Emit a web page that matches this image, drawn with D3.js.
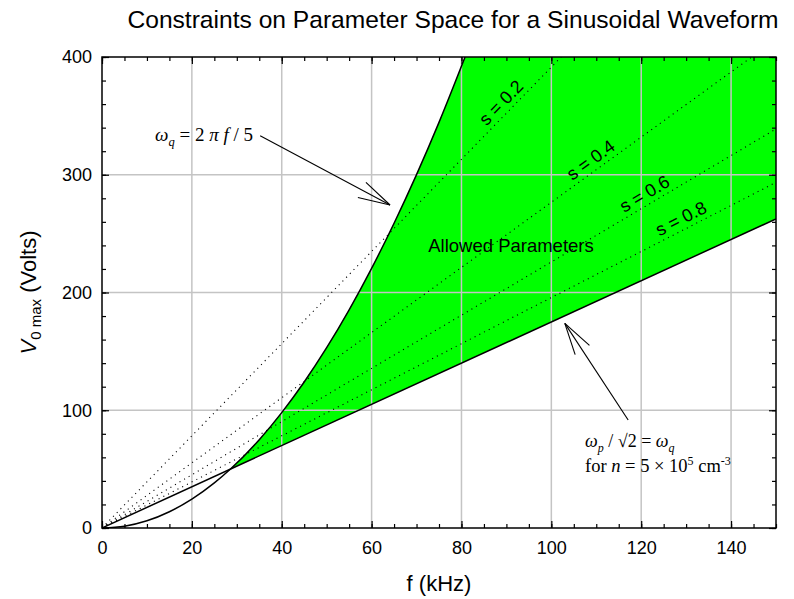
<!DOCTYPE html>
<html>
<head>
<meta charset="utf-8">
<script src="https://cdn.jsdelivr.net/npm/d3@7"></script>
<style>
  body { margin: 0; background: #fff; }
  svg { display: block; }
</style>
</head>
<body>
<svg id="chart" width="794" height="599"></svg>
<script>
// ---- axis setup ----
const xDomain = [0, 150];
const yDomain = [0, 400];
const xTicks = [0, 20, 40, 60, 80, 100, 120, 140];
const yTicks = [0, 100, 200, 300, 400];

// ---- boundary: omega_q = 2 pi f / 5 (f in kHz, V0max in volts) ----
const qCurveF = [0, 5, 10, 15, 20, 25, 28.6, 35, 40, 45, 50, 55, 60, 65, 70, 75, 80.8];
const qCurveV = [0, 1.5, 6.1, 13.8, 24.5, 38.3, 50.1, 75.0, 98.0, 124.0, 153.1, 185.3, 220.5, 258.8, 300.1, 344.5, 400];

// ---- boundary: omega_p / sqrt(2) = omega_q, n = 5e5 cm^-3 ----
const pLineF = [0, 150];
const pLineV = [0, 262.5];

// point where the two boundaries meet
const crossF = 28.6;
const crossV = 50.1;

// ---- constant-s lines (from the origin to the frame) ----
const sValues = [0.2, 0.4, 0.6, 0.8];
const sEndF = [102.2, 144.6, 150, 150];
const sEndV = [400, 400, 338.9, 293.5];
const sLabelF = [90.6, 110.2, 122, 130];

// ---- annotation arrows [fromF, fromV, tipF, tipV] ----
const arrowQ = [35.2, 333.2, 64.1, 274.3];
const arrowP = [117.1, 91.7, 103.0, 173.8];

const W = 794, H = 599;
const margin = { top: 57, right: 18, bottom: 71, left: 102 };
const x = d3.scaleLinear().domain(xDomain).range([margin.left, W - margin.right]);
const y = d3.scaleLinear().domain(yDomain).range([H - margin.bottom, margin.top]);

const svg = d3.select("#chart");
const sans = "'Liberation Sans', Arial, sans-serif";
const serif = "'Liberation Serif', 'Times New Roman', serif";

svg.append("defs").append("clipPath").attr("id", "plotClip")
  .append("rect")
  .attr("x", x(xDomain[0])).attr("y", y(yDomain[1]))
  .attr("width", x(xDomain[1]) - x(xDomain[0]))
  .attr("height", y(yDomain[0]) - y(yDomain[1]));

const plot = svg.append("g").attr("clip-path", "url(#plotClip)");

// ---- allowed region (green) ----
const curvePts = qCurveF.map((f, i) => [f, qCurveV[i]]);
const lineGen = d3.line().x(d => x(d[0])).y(d => y(d[1])).curve(d3.curveMonotoneX);
const upperPart = curvePts.filter(d => d[0] >= crossF);
const regionPath = lineGen(upperPart)
  + "L" + x(xDomain[1]) + "," + y(yDomain[1])
  + "L" + x(pLineF[1]) + "," + y(pLineV[1])
  + "L" + x(crossF) + "," + y(crossV) + "Z";
plot.append("path").attr("d", regionPath).attr("fill", "#00ff00").attr("stroke", "none");

// ---- grid ----
const gridColor = "#c4c4c4";
plot.append("g").selectAll("line").data(xTicks.filter(t => t > xDomain[0]))
  .join("line")
  .attr("x1", d => x(d)).attr("x2", d => x(d))
  .attr("y1", y(yDomain[0])).attr("y2", y(yDomain[1]))
  .attr("stroke", gridColor).attr("stroke-width", 1.5);
plot.append("g").selectAll("line").data(yTicks.filter(t => t > yDomain[0] && t < yDomain[1]))
  .join("line")
  .attr("y1", d => y(d)).attr("y2", d => y(d))
  .attr("x1", x(xDomain[0])).attr("x2", x(xDomain[1]))
  .attr("stroke", gridColor).attr("stroke-width", 1.5);

// ---- constant-s dotted lines ----
const straight = d3.line().x(d => x(d[0])).y(d => y(d[1]));
plot.append("g").selectAll("path").data(sValues)
  .join("path")
  .attr("d", (s, i) => straight([[0, 0], [sEndF[i], sEndV[i]]]))
  .attr("fill", "none").attr("stroke", "#000").attr("stroke-width", 1.1)
  .attr("stroke-dasharray", "1.1,4.2");

// ---- boundary curves ----
plot.append("path").attr("d", lineGen(curvePts))
  .attr("fill", "none").attr("stroke", "#000").attr("stroke-width", 1.5);
plot.append("path").attr("d", straight(pLineF.map((f, i) => [f, pLineV[i]])))
  .attr("fill", "none").attr("stroke", "#000").attr("stroke-width", 1.5);

// ---- axes with inward ticks on all four sides ----
function styleAxis(g) {
  g.select(".domain").remove();
  g.selectAll(".tick line").attr("stroke", "#000").attr("stroke-width", 1.2);
  g.selectAll(".tick text").attr("font-family", sans).attr("font-size", 18).attr("fill", "#000");
}
const minorX = d3.range(0, 151, 5);
const minorY = d3.range(0, 401, 20);

svg.append("g").attr("transform", `translate(0,${y(0)})`)
  .call(d3.axisBottom(x).tickValues(minorX).tickSize(-4).tickFormat(""))
  .call(styleAxis);
svg.append("g").attr("transform", `translate(0,${y(0)})`)
  .call(d3.axisBottom(x).tickValues(xTicks).tickSize(-7).tickPadding(13).tickFormat(d3.format("d")))
  .call(styleAxis);
svg.append("g").attr("transform", `translate(0,${y(400)})`)
  .call(d3.axisTop(x).tickValues(minorX).tickSize(-4).tickFormat(""))
  .call(styleAxis);
svg.append("g").attr("transform", `translate(0,${y(400)})`)
  .call(d3.axisTop(x).tickValues(xTicks).tickSize(-7).tickFormat(""))
  .call(styleAxis);
svg.append("g").attr("transform", `translate(${x(0)},0)`)
  .call(d3.axisLeft(y).tickValues(minorY).tickSize(-4).tickFormat(""))
  .call(styleAxis);
svg.append("g").attr("transform", `translate(${x(0)},0)`)
  .call(d3.axisLeft(y).tickValues(yTicks).tickSize(-7).tickPadding(10).tickFormat(d3.format("d")))
  .call(styleAxis);
svg.append("g").attr("transform", `translate(${x(150)},0)`)
  .call(d3.axisRight(y).tickValues(minorY).tickSize(-4).tickFormat(""))
  .call(styleAxis);
svg.append("g").attr("transform", `translate(${x(150)},0)`)
  .call(d3.axisRight(y).tickValues(yTicks).tickSize(-7).tickFormat(""))
  .call(styleAxis);

// frame
svg.append("rect")
  .attr("x", x(xDomain[0])).attr("y", y(yDomain[1]))
  .attr("width", x(xDomain[1]) - x(xDomain[0]))
  .attr("height", y(yDomain[0]) - y(yDomain[1]))
  .attr("fill", "none").attr("stroke", "#000").attr("stroke-width", 1.5);

// ---- s labels along the dotted lines ----
svg.append("g").selectAll("text").data(sValues)
  .join("text")
  .attr("transform", (s, i) => {
    const f = sLabelF[i];
    const v = sEndV[i] * f / sEndF[i];
    const ang = Math.atan2(y(sEndV[i]) - y(0), x(sEndF[i]) - x(0)) * 180 / Math.PI;
    return `translate(${x(f)},${y(v)}) rotate(${ang})`;
  })
  .attr("dy", -5)
  .attr("text-anchor", "middle")
  .attr("font-family", sans).attr("font-size", 18)
  .text(s => "s = " + s);

// ---- region label ----
svg.append("text")
  .attr("x", x(72.6)).attr("y", y(234.4))
  .attr("font-family", sans).attr("font-size", 18.5)
  .text("Allowed Parameters");

// ---- titles ----
svg.append("text")
  .attr("x", 453).attr("y", 28)
  .attr("text-anchor", "middle")
  .attr("font-family", sans).attr("font-size", 24.6)
  .text("Constraints on Parameter Space for a Sinusoidal Waveform");

svg.append("text")
  .attr("x", (x(0) + x(150)) / 2).attr("y", 591)
  .attr("text-anchor", "middle")
  .attr("font-family", sans).attr("font-size", 22)
  .text("f (kHz)");

const yLab = svg.append("text")
  .attr("transform", `translate(36,${(y(0) + y(400)) / 2}) rotate(-90)`)
  .attr("text-anchor", "middle")
  .attr("font-family", sans).attr("font-size", 22);
yLab.append("tspan").attr("font-style", "italic").text("V");
yLab.append("tspan").attr("font-size", 15).attr("dy", 5).text("0 max");
yLab.append("tspan").attr("dy", -5).text(" (Volts)");

// ---- annotation arrows (open heads) ----
function arrow(a) {
  const x0 = x(a[0]), y0 = y(a[1]), x1 = x(a[2]), y1 = y(a[3]);
  const g = svg.append("g").attr("stroke", "#000").attr("stroke-width", 1.1).attr("fill", "none");
  g.append("line").attr("x1", x0).attr("y1", y0).attr("x2", x1).attr("y2", y1);
  const back = Math.atan2(y0 - y1, x0 - x1);
  const len = 33, half = 15 * Math.PI / 180;
  [back - half, back + half].forEach(t => {
    g.append("line").attr("x1", x1).attr("y1", y1)
      .attr("x2", x1 + len * Math.cos(t)).attr("y2", y1 + len * Math.sin(t));
  });
}
arrow(arrowQ);
arrow(arrowP);

// ---- annotation texts ----
const tq = svg.append("text")
  .attr("x", x(11.8)).attr("y", y(328.7))
  .attr("font-family", serif).attr("font-size", 19);
tq.append("tspan").attr("font-style", "italic").text("ω");
tq.append("tspan").attr("font-style", "italic").attr("font-size", 12.5).attr("dy", 5).text("q");
tq.append("tspan").attr("dy", -5).text(" = 2 ");
tq.append("tspan").attr("font-style", "italic").text("π f");
tq.append("tspan").text(" / 5");

const tp1 = svg.append("text")
  .attr("x", x(107.5)).attr("y", y(68.8))
  .attr("font-family", serif).attr("font-size", 18);
tp1.append("tspan").attr("font-style", "italic").text("ω");
tp1.append("tspan").attr("font-style", "italic").attr("font-size", 12).attr("dy", 5).text("p");
tp1.append("tspan").attr("dy", -5).text(" / √2 = ");
tp1.append("tspan").attr("font-style", "italic").text("ω");
tp1.append("tspan").attr("font-style", "italic").attr("font-size", 12).attr("dy", 5).text("q");

const tp2 = svg.append("text")
  .attr("x", x(107.5)).attr("y", y(68.8) + 25)
  .attr("font-family", serif).attr("font-size", 18.5);
tp2.append("tspan").text("for ");
tp2.append("tspan").attr("font-style", "italic").text("n");
tp2.append("tspan").text(" = 5 × 10");
tp2.append("tspan").attr("font-size", 12).attr("dy", -7).text("5");
tp2.append("tspan").attr("dy", 7).text(" cm");
tp2.append("tspan").attr("font-size", 12).attr("dy", -7).text("-3");
</script>
</body>
</html>
